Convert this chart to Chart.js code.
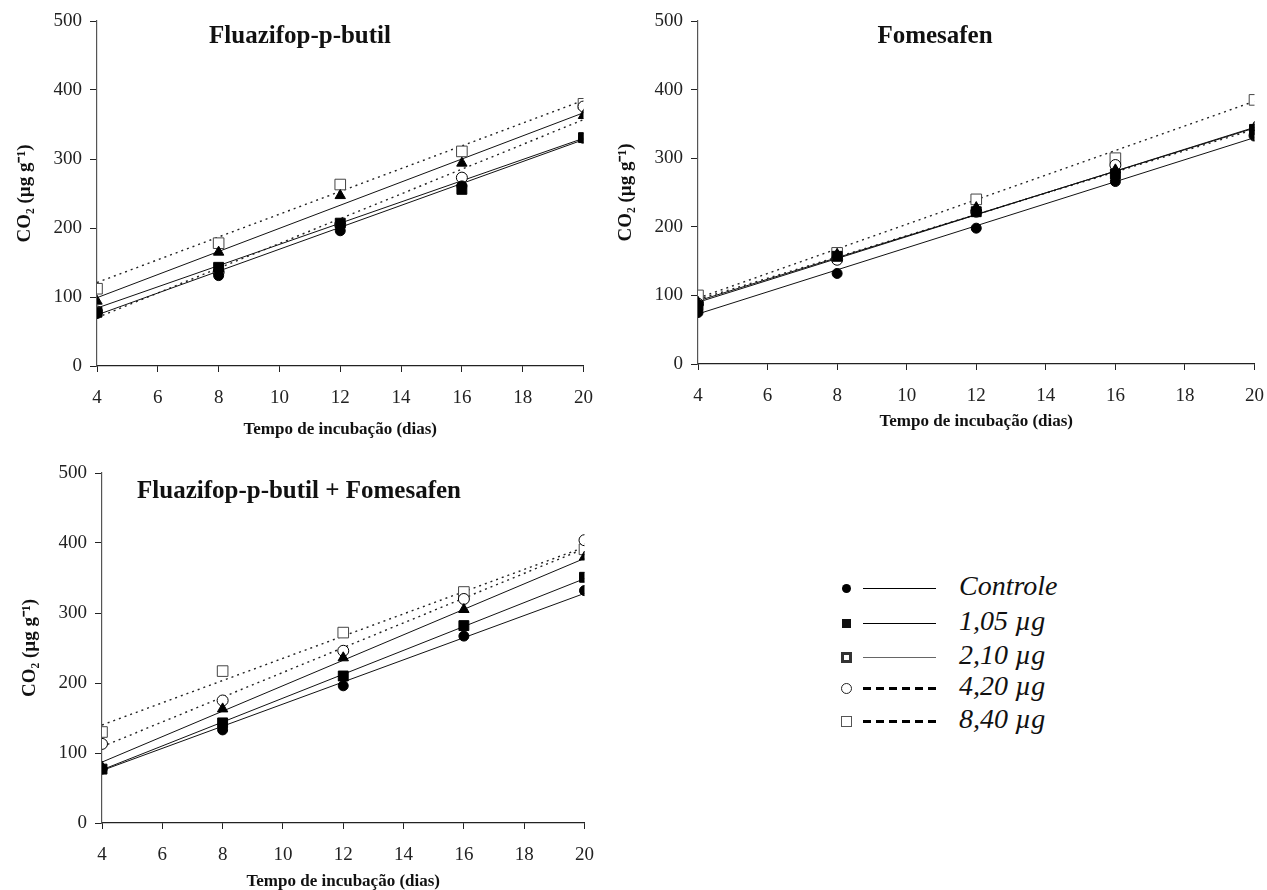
<!DOCTYPE html>
<html>
<head>
<meta charset="utf-8">
<script src="https://cdn.jsdelivr.net/npm/chart.js@4/dist/chart.umd.min.js"></script>
<style>
body { margin: 0; background: #fff; }
#page { position: relative; width: 1267px; height: 890px; overflow: hidden; font-family: "Liberation Serif", "Times New Roman", serif; }
.panel { position: absolute; }
.ptitle { position: absolute; font-weight: bold; font-size: 25px; color: #111; white-space: nowrap; transform: translate(-50%, -50%); }
.legend { position: absolute; left: 836px; top: 0; }
.row { position: absolute; left: 0; height: 33px; width: 280px; }
.mk { position: absolute; left: 6px; top: 12px; width: 9px; height: 9px; box-sizing: border-box; }
.ln { position: absolute; left: 27px; top: 16px; width: 73px; height: 0; }
.dash { height: 3px; top: 15px; background: repeating-linear-gradient(90deg, #000 0 8px, transparent 8px 13px); }
.lbl { position: absolute; left: 123px; top: -2px; font-style: italic; font-size: 28px; color: #111; white-space: nowrap; }
</style>
</head>
<body>
<div id="page">
  <div class="panel" style="left:0;top:0;width:608px;height:444px"><canvas id="c1"></canvas></div>
  <div class="panel" style="left:601px;top:0;width:678px;height:436px"><canvas id="c2"></canvas></div>
  <div class="panel" style="left:5px;top:452px;width:604px;height:444px"><canvas id="c3"></canvas></div>

  <div class="ptitle" style="left:300px;top:35px">Fluazifop-p-butil</div>
  <div class="ptitle" style="left:935px;top:35px">Fomesafen</div>
  <div class="ptitle" style="left:299px;top:490px">Fluazifop-p-butil + Fomesafen</div>

  <div class="legend">
    <div class="row" style="top:572px"><div class="mk" style="background:#000;border-radius:50%"></div><div class="ln" style="border-top:1.5px solid #000"></div><div class="lbl">Controle</div></div>
    <div class="row" style="top:607px"><div class="mk" style="background:#111"></div><div class="ln" style="border-top:1.5px solid #000"></div><div class="lbl">1,05 µg</div></div>
    <div class="row" style="top:641px"><div class="mk" style="border:3px solid #333;background:#fff;width:11px;height:11px;left:5px;top:11px"></div><div class="ln" style="border-top:1.5px solid #666"></div><div class="lbl">2,10 µg</div></div>
    <div class="row" style="top:672px"><div class="mk" style="border:1px solid #222;border-radius:50%;background:#fff;width:11px;height:11px;left:5px;top:11px"></div><div class="ln dash"></div><div class="lbl">4,20 µg</div></div>
    <div class="row" style="top:705px"><div class="mk" style="border:1px solid #555;background:#fff;width:11px;height:11px;left:5px;top:11px"></div><div class="ln dash"></div><div class="lbl">8,40 µg</div></div>
  </div>
</div>

<script>
// incubation days
const days = [4, 8, 12, 16, 20];
const doseNames = ["Controle", "1,05 µg", "2,10 µg", "4,20 µg", "8,40 µg"];
const yTicks = [0, 100, 200, 300, 400, 500];

// Fluazifop-p-butil
const fluazControle = [76, 131, 196, 261, 330];
const fluaz105 = [78, 143, 207, 256, 331];
const fluaz210 = [94, 165, 247, 294, 363];
const fluaz420 = [79, 136, 205, 273, 376];
const fluaz840 = [112, 178, 263, 311, 380];
// fitted lines, value at day 4 and day 20
const fluazFitStart = [74, 84, 99, 70, 121];
const fluazFitEnd = [328, 330, 367, 357, 385];

// Fomesafen
const fomeControle = [75, 132, 198, 266, 333];
const fome105 = [85, 157, 222, 277, 342];
const fome210 = [90, 160, 228, 283, 345];
const fome420 = [88, 152, 222, 290, 333];
const fome840 = [100, 162, 240, 300, 385];
const fomeFitStart = [73, 90, 92, 94, 96];
const fomeFitEnd = [330, 345, 344, 342, 383];

// Fluazifop-p-butil + Fomesafen
const mixControle = [77, 133, 196, 267, 332];
const mix105 = [77, 143, 210, 282, 351];
const mix210 = [80, 163, 236, 305, 380];
const mix420 = [113, 175, 246, 320, 404];
const mix840 = [130, 217, 272, 330, 391];
const mixFitStart = [75, 76, 87, 109, 140];
const mixFitEnd = [328, 349, 378, 392, 394];

const markerStyles = [
    { pointStyle: "circle", radius: 5, bg: "#000", border: "#000", bw: 1 },
    { pointStyle: "rect", radius: 7, bg: "#000", border: "#000", bw: 1 },
    { pointStyle: "triangle", radius: 6, bg: "#000", border: "#000", bw: 1 },
    { pointStyle: "circle", radius: 5.5, bg: "#fff", border: "#000", bw: 1 },
    { pointStyle: "rect", radius: 7.5, bg: "#fff", border: "#444", bw: 1 }
];
const lineDashes = [[], [], [], [2, 4], [2, 4]];
const lineWidths = [1, 1, 1, 1.4, 1.4];

function buildDatasets(seriesList, fitStart, fitEnd) {
    const sets = [];
    seriesList.forEach((vals, i) => {
        sets.push({
            label: doseNames[i] + " ajuste",
            data: [{ x: days[0], y: fitStart[i] }, { x: days[days.length - 1], y: fitEnd[i] }],
            showLine: true,
            borderColor: i > 2 ? "#222" : "#111",
            borderWidth: lineWidths[i],
            borderDash: lineDashes[i],
            pointRadius: 0,
            order: 2
        });
    });
    seriesList.forEach((vals, i) => {
        const m = markerStyles[i];
        sets.push({
            label: doseNames[i],
            data: vals.map((v, k) => ({ x: days[k], y: v })),
            showLine: false,
            pointStyle: m.pointStyle,
            pointRadius: m.radius,
            pointBackgroundColor: m.bg,
            pointBorderColor: m.border,
            pointBorderWidth: m.bw,
            order: 1
        });
    });
    return sets;
}

function makeChart(id, seriesList, fitStart, fitEnd, xHeight) {
    const tickFont = { family: "Liberation Serif", size: 19 };
    const titleFont = { family: "Liberation Serif", size: 17, weight: "bold" };
    const yTitleFont = { family: "Liberation Serif", size: 19, weight: "bold" };
    return new Chart(document.getElementById(id), {
        type: "scatter",
        data: { datasets: buildDatasets(seriesList, fitStart, fitEnd) },
        options: {
            responsive: true,
            maintainAspectRatio: false,
            animation: false,
            layout: { padding: { top: 21, right: 16, left: 0, bottom: 0 } },
            plugins: { legend: { display: false }, tooltip: { enabled: false } },
            scales: {
                x: {
                    type: "linear",
                    min: 4, max: 20,
                    ticks: { stepSize: 2, font: tickFont, color: "#222", padding: 15 },
                    grid: { drawOnChartArea: false, tickLength: 6, tickColor: "#222" },
                    border: { color: "#222", width: 1.2 },
                    title: { display: true, text: "Tempo de incubação (dias)", font: titleFont, color: "#111", padding: { top: 2, bottom: 4 } },
                    afterFit(scale) { scale.height = xHeight; }
                },
                y: {
                    min: 0, max: 500,
                    afterBuildTicks(scale) { scale.ticks = yTicks.map(v => ({ value: v })); },
                    ticks: { font: tickFont, color: "#222", padding: 8 },
                    grid: { drawOnChartArea: false, tickLength: 7, tickColor: "#222" },
                    border: { color: "#555", width: 1.2 },
                    title: { display: true, text: "CO₂ (µg g⁻¹)", font: yTitleFont, color: "#111", padding: { top: 14, bottom: 0 } },
                    afterFit(scale) { scale.width = 97; }
                }
            }
        }
    });
}

makeChart("c1", [fluazControle, fluaz105, fluaz210, fluaz420, fluaz840], fluazFitStart, fluazFitEnd, 78);
makeChart("c2", [fomeControle, fome105, fome210, fome420, fome840], fomeFitStart, fomeFitEnd, 72);
makeChart("c3", [mixControle, mix105, mix210, mix420, mix840], mixFitStart, mixFitEnd, 73);
</script>
</body>
</html>
